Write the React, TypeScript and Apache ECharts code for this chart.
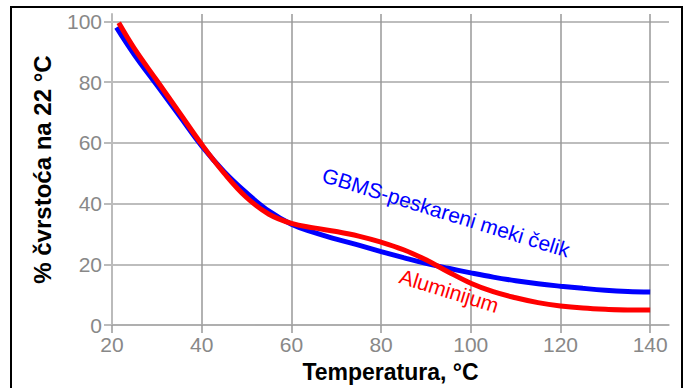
import React, { useEffect, useRef } from "react";
import * as echarts from "echarts";

// Temperature (°C) sample points
const steelTemps = [21, 25, 30, 35, 40, 45, 50, 55, 60, 65, 70, 75, 80, 85, 90, 95, 100, 105, 110, 115, 120, 125, 130, 135, 140];
const steelValues = [98, 89, 79, 69, 59, 50.5, 43.5, 37.5, 33.2, 30.5, 28.3, 26.3, 24.2, 22.2, 20.3, 18.7, 17.2, 15.8, 14.6, 13.6, 12.8, 12.1, 11.5, 11.1, 10.9];

const alTemps = [21.5, 25, 30, 35, 40, 45, 50, 55, 60, 65, 70, 75, 80, 85, 90, 95, 100, 105, 110, 115, 120, 125, 130, 135, 140];
const alValues = [99.5, 91, 80.5, 70, 59.5, 50, 42, 36.5, 33.5, 32, 30.8, 29.3, 27.3, 24.8, 21.5, 17.5, 13.8, 11.0, 9.0, 7.4, 6.3, 5.6, 5.2, 5.0, 5.0];

const xTicks = [20, 40, 60, 80, 100, 120, 140];
const yTicks = [0, 20, 40, 60, 80, 100];

const steelName = "GBMS-peskareni meki čelik";
const alName = "Aluminijum";
const xTitle = "Temperatura, °C";
const yTitle = "% čvrstoća na 22 °C";

// label anchors in data coordinates
const steelLabelAt = [94.5, 37.1];
const alLabelAt = [95.2, 11.3];

const FONT = "'Liberation Sans', Arial, sans-serif";

export default function App() {
  const ref = useRef<HTMLDivElement>(null);
  useEffect(() => {
    if (!ref.current) return;
    const chart = echarts.init(ref.current, null, { renderer: "svg" });
    const option: any = {
      animation: false,
      backgroundColor: "#ffffff",
      grid: { left: 112, right: 20, top: 14, bottom: 59, containLabel: false },
      xAxis: {
        type: "value",
        min: 20,
        max: 144.2,
        interval: 20,
        name: xTitle,
        nameLocation: "middle",
        nameGap: 32,
        nameTextStyle: { fontFamily: FONT, fontSize: 23, fontWeight: "bold", color: "#000" },
        axisLine: { show: true, onZero: false, lineStyle: { color: "#aaa", width: 1.5 } },
        axisTick: { show: true, length: 8, customValues: xTicks, lineStyle: { color: "#999", width: 1.5 } },
        axisLabel: { show: true, margin: 9, customValues: xTicks, color: "#888", fontFamily: FONT, fontSize: 21 },
        splitLine: { show: true, lineStyle: { color: "#999", width: 1.5 } },
      },
      yAxis: {
        type: "value",
        min: 0,
        max: 102.4,
        interval: 20,
        name: yTitle,
        nameLocation: "middle",
        nameGap: 58,
        nameTextStyle: { fontFamily: FONT, fontSize: 24, fontWeight: "bold", color: "#000" },
        axisLine: { show: true, lineStyle: { color: "#bbb", width: 2 } },
        axisTick: { show: true, length: 8, customValues: yTicks, lineStyle: { color: "#bbb", width: 2 } },
        axisLabel: { show: true, margin: 10, customValues: yTicks, color: "#888", fontFamily: FONT, fontSize: 21 },
        splitLine: { show: true, lineStyle: { color: "#bdbdbd", width: 2 } },
      },
      series: [
        {
          name: steelName,
          type: "line",
          smooth: 0.4,
          symbol: "none",
          lineStyle: { color: "#0000ff", width: 5 },
          data: steelTemps.map((t, i) => [t, steelValues[i]]),
          z: 3,
        },
        {
          name: alName,
          type: "line",
          smooth: 0.4,
          symbol: "none",
          lineStyle: { color: "#ff0000", width: 5 },
          data: alTemps.map((t, i) => [t, alValues[i]]),
          z: 4,
        },
      ],
    };
    chart.setOption(option);
    const p1 = chart.convertToPixel({ gridIndex: 0 }, steelLabelAt) as number[];
    const p2 = chart.convertToPixel({ gridIndex: 0 }, alLabelAt) as number[];
    const rot = -17.2 * Math.PI / 180;
    chart.setOption({
      graphic: [
        {
          type: "rect",
          shape: { x: 11, y: 7, width: 671, height: 420 },
          style: { fill: "none", stroke: "#000", lineWidth: 2 },
          silent: true,
        },
        {
          type: "text",
          x: p1[0],
          y: p1[1],
          rotation: rot,
          style: { text: steelName, fill: "#0000ff", fontFamily: FONT, fontSize: 21, align: "center", verticalAlign: "middle" },
          z: 10,
        },
        {
          type: "text",
          x: p2[0],
          y: p2[1],
          rotation: rot,
          style: { text: alName, fill: "#ff0000", fontFamily: FONT, fontSize: 21, align: "center", verticalAlign: "middle" },
          z: 10,
        },
      ],
    });
    return () => chart.dispose();
  }, []);
  return (
    <div
      ref={ref}
      style={{ position: "fixed", left: 0, top: 0, width: 689, height: 388, background: "#fff" }}
    />
  );
}
